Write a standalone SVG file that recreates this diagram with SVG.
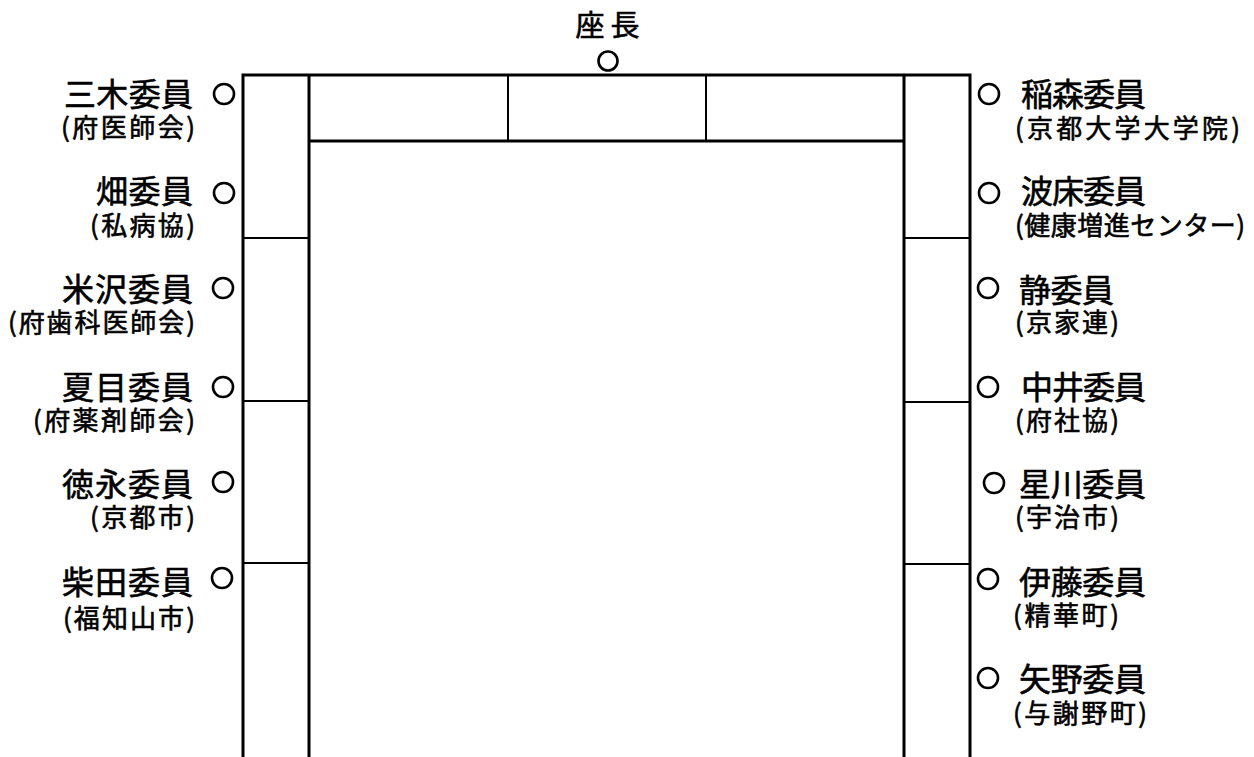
<svg xmlns="http://www.w3.org/2000/svg" width="1254" height="757" viewBox="0 0 1254 757">
<style>
text{font-family:"Noto Sans CJK JP","Noto Sans CJK SC",sans-serif;fill:#000;stroke:#000;stroke-width:0.6}
.nm{font-size:32px}
.sub{font-size:26px}
.ch{font-size:29px}
.l{text-anchor:end}
.r{text-anchor:start}
.c{text-anchor:middle}
.seat{fill:none;stroke:#000;stroke-width:2.6}
.frame{stroke:#000;stroke-width:3;fill:none}
.div{stroke:#000;stroke-width:2;fill:none}
</style>
<rect width="1254" height="757" fill="#fff"/>
<g id="table">
<path class="frame" d="M243 757V75H970V757M309 757V75M904 757V75M309 141H904"/>
<path class="div" d="M508 75V141M706 75V141M243 238H309M243 401H309M243 563H309M904 238H970M904 402H970M904 564H970"/>
</g>
<g id="chair">
<text class="ch c" x="607.5" y="36" textLength="64" lengthAdjust="spacing">座長</text>
<circle class="seat" cx="608" cy="61" r="9.5"/>
</g>
<g id="left-1"><text class="nm l" x="193" y="106" textLength="129" lengthAdjust="spacing">三木委員</text><text class="sub l" x="195" y="136.5" textLength="134" lengthAdjust="spacing">(府医師会)</text><circle class="seat" cx="224" cy="94" r="10"/></g>
<g id="left-2"><text class="nm l" x="193" y="203" textLength="97" lengthAdjust="spacing">畑委員</text><text class="sub l" x="195" y="234.5" textLength="105" lengthAdjust="spacing">(私病協)</text><circle class="seat" cx="224" cy="193" r="10"/></g>
<g id="left-3"><text class="nm l" x="193" y="301" textLength="131" lengthAdjust="spacing">米沢委員</text><text class="sub l" x="195" y="331.5" textLength="187" lengthAdjust="spacing">(府歯科医師会)</text><circle class="seat" cx="223" cy="288" r="10"/></g>
<g id="left-4"><text class="nm l" x="193" y="399" textLength="131" lengthAdjust="spacing">夏目委員</text><text class="sub l" x="195" y="429.5" textLength="162" lengthAdjust="spacing">(府薬剤師会)</text><circle class="seat" cx="223" cy="387" r="10"/></g>
<g id="left-5"><text class="nm l" x="193" y="496" textLength="131" lengthAdjust="spacing">徳永委員</text><text class="sub l" x="195" y="526.5" textLength="105" lengthAdjust="spacing">(京都市)</text><circle class="seat" cx="223" cy="482" r="10"/></g>
<g id="left-6"><text class="nm l" x="193" y="594" textLength="131" lengthAdjust="spacing">柴田委員</text><text class="sub l" x="195" y="627.5" textLength="132" lengthAdjust="spacing">(福知山市)</text><circle class="seat" cx="222" cy="578" r="10"/></g>
<g id="right-1"><circle class="seat" cx="989" cy="94" r="10"/><text class="nm r" x="1021" y="106" textLength="125" lengthAdjust="spacing">稲森委員</text><text class="sub r" x="1015" y="137.5" textLength="225" lengthAdjust="spacing">(京都大学大学院)</text></g>
<g id="right-2"><circle class="seat" cx="989" cy="193" r="10"/><text class="nm r" x="1021" y="203" textLength="125" lengthAdjust="spacing">波床委員</text><text class="sub r" x="1015" y="234.5" textLength="230" lengthAdjust="spacing">(健康増進センター)</text></g>
<g id="right-3"><circle class="seat" cx="988" cy="288" r="10"/><text class="nm r" x="1019" y="302" textLength="95" lengthAdjust="spacing">静委員</text><text class="sub r" x="1015" y="331.5" textLength="104" lengthAdjust="spacing">(京家連)</text></g>
<g id="right-4"><circle class="seat" cx="988" cy="387" r="10"/><text class="nm r" x="1021" y="399" textLength="125" lengthAdjust="spacing">中井委員</text><text class="sub r" x="1015" y="429.5" textLength="104" lengthAdjust="spacing">(府社協)</text></g>
<g id="right-5"><circle class="seat" cx="994" cy="483" r="10"/><text class="nm r" x="1019" y="496" textLength="127" lengthAdjust="spacing">星川委員</text><text class="sub r" x="1015" y="526.5" textLength="104" lengthAdjust="spacing">(宇治市)</text></g>
<g id="right-6"><circle class="seat" cx="988" cy="579" r="10"/><text class="nm r" x="1019" y="594" textLength="127" lengthAdjust="spacing">伊藤委員</text><text class="sub r" x="1013" y="624.5" textLength="106" lengthAdjust="spacing">(精華町)</text></g>
<g id="right-7"><circle class="seat" cx="988" cy="678" r="10"/><text class="nm r" x="1019" y="691" textLength="127" lengthAdjust="spacing">矢野委員</text><text class="sub r" x="1013" y="722.5" textLength="134" lengthAdjust="spacing">(与謝野町)</text></g>
</svg>
